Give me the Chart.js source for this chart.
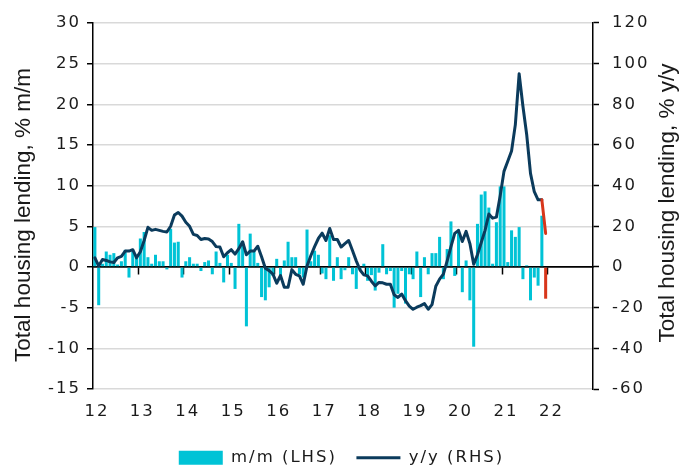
<!DOCTYPE html>
<html>
<head>
<meta charset="utf-8">
<style>
html,body{margin:0;padding:0;background:#fff;overflow:hidden;}
#wrap{width:683px;height:469px;position:relative;}
canvas{display:block;}
</style>
<script src="https://cdn.jsdelivr.net/npm/chart.js@4/dist/chart.umd.min.js"></script>
</head>
<body>
<div id="wrap"><canvas id="c" width="683" height="469" style="width:683px;height:469px"></canvas></div>
<script>
// ---- data ----
const startYear = 2012;
const monthCount = 132; // Jan 2012 .. Dec 2022 (axis span)
const yearTickLabels = ['12','13','14','15','16','17','18','19','20','21','22'];
const leftTitle = 'Total housing lending, % m/m';
const rightTitle = 'Total housing lending, % y/y';
const seriesNames = ['m/m (LHS)', 'y/y (RHS)'];

// m/m, % (left axis) Jan 2012 .. Dec 2021
const mmValues = [
  4.9, -4.7, 0.4, 1.9, 1.5, 1.7, 0.3, 0.7, 2.1, -1.3, 1.9, 1.5,
  3.5, 4.3, 1.2, 0.4, 1.5, 0.7, 0.7, -0.3, 4.7, 3.0, 3.1, -1.3,
  0.7, 1.2, 0.4, 0.4, -0.5, 0.6, 0.8, -0.9, 1.9, 0.5, -1.9, 1.5,
  0.5, -2.7, 5.3, 3.1, -7.3, 4.1, 2.0, 0.5, -3.7, -4.1, -2.5, -1.1,
  1.0, -1.2, 0.8, 3.1, 1.2, 1.2, -0.9, -1.3, 4.6, 0.7, 2.0, 1.5,
  -0.8, -1.5, 3.9, -1.7, 1.2, -1.5, -0.4, 1.2, -0.9, -2.7, -0.3, 0.4,
  -1.7, -1.0, -2.9, -0.7, 2.8, -0.9, -0.5, -5.0, -3.3, -0.5, -4.5, -0.9,
  -1.5, 1.9, -3.7, 1.2, -0.9, 1.7, 1.7, 3.7, -1.5, 2.2, 5.6, -1.1,
  4.6, -3.1, 0.8, -4.1, -9.8, 5.3, 8.9, 9.3, 7.3, 0.4, 5.5, 9.9,
  9.9, 0.6, 4.5, 3.7, 4.9, -1.5, 0.2, -4.1, -1.3, -2.3, 6.3, -3.9
];
// y/y, % (right axis) Jan 2012 .. Dec 2021
const yyValues = [
  4.5, 0.5, 3.7, 3.2, 2.5, 2.2, 4.5, 5.2, 7.8, 7.8, 8.5, 4.5,
  7.5, 13.0, 19.5, 18.0, 18.5, 18.0, 17.5, 17.2, 20.0, 25.5, 26.8, 25.0,
  22.0, 20.0, 16.0, 15.5, 13.5, 14.0, 13.8, 12.5, 10.0, 9.8, 5.0, 7.0,
  8.5, 6.3, 9.0, 12.4, 6.0, 7.8, 7.8, 10.2, 5.0, -0.6, -1.8, -3.5,
  -8.0, -4.2, -10.0, -10.0, -1.3, -3.6, -4.4, -8.5, 0.5, 5.5, 10.0, 14.0,
  16.6, 13.0, 18.9, 13.5, 13.5, 9.8, 11.5, 13.0, 8.1, 3.0, -1.5, -3.9,
  -4.4, -7.0, -9.3, -7.6, -7.8, -8.5, -8.5, -13.7, -15.0, -13.3, -16.6, -19.2,
  -20.8, -19.8, -19.0, -18.0, -20.8, -18.5, -9.5, -6.0, -3.5, 3.0, 10.0, 16.5,
  18.0, 12.5, 17.5, 11.5, 1.3, 6.0, 12.0, 18.0, 26.0, 24.0, 24.5, 35.0,
  47.0, 52.0, 57.0, 70.0, 95.0, 79.0, 65.0, 46.0, 37.0, 33.0, 33.0, 16.5
];
const leftAxis = {min: -15, max: 30, step: 5};
const rightAxis = {min: -60, max: 120, step: 20};

// ---- styles ----
const CYAN = '#00c3d6';
const NAVY = '#0b3b5c';
const RED = '#d8361b';
const GRID = '#d9d9d9';
const TEXT = '#1a1a1a';
const TICKFONT = {family: '"DejaVu Sans", sans-serif', size: 16.5};

const labels = [];
for (let i = 0; i < monthCount; i++) {
  labels.push((startYear + Math.floor(i / 12)) + '-' + String(i % 12 + 1).padStart(2, '0'));
}
const lastIdx = mmValues.length - 1;

const spacingPlugin = {
  id: 'spacing',
  beforeUpdate(chart) { chart.ctx.letterSpacing = '2px'; }
};
const titlePlugin = {
  id: 'vtitles',
  afterDraw(chart) {
    const ctx = chart.ctx, a = chart.chartArea;
    ctx.save();
    ctx.letterSpacing = '0px';
    ctx.font = '22.5px "Liberation Sans", Arial, sans-serif';
    ctx.fillStyle = TEXT;
    ctx.textAlign = 'center';
    ctx.textBaseline = 'middle';
    ctx.save();
    ctx.translate(a.left - 69, (a.top + a.bottom) / 2 + 9);
    ctx.rotate(-Math.PI / 2);
    ctx.fillText(leftTitle, 0, 0);
    ctx.restore();
    ctx.save();
    ctx.translate(a.right + 75, (a.top + a.bottom) / 2 - 3);
    ctx.rotate(-Math.PI / 2);
    ctx.fillText(rightTitle, 0, 0);
    ctx.restore();
    ctx.restore();
  }
};

new Chart(document.getElementById('c'), {
  type: 'bar',
  data: {
    labels: labels,
    datasets: [
      {
        type: 'bar',
        label: seriesNames[0],
        data: mmValues,
        yAxisID: 'yL',
        xAxisID: 'x',
        backgroundColor: mmValues.map((v, i) => i === lastIdx ? RED : CYAN),
        borderWidth: 0,
        barPercentage: 1,
        categoryPercentage: 0.8,
        order: 1
      },
      {
        type: 'line',
        label: seriesNames[1],
        data: yyValues,
        yAxisID: 'yR',
        xAxisID: 'x',
        borderColor: NAVY,
        borderWidth: 3,
        pointRadius: 0,
        tension: 0,
        borderJoinStyle: 'round',
        borderCapStyle: 'round',
        segment: { borderColor: c => c.p1DataIndex === lastIdx ? RED : NAVY },
        order: 0
      }
    ]
  },
  options: {
    responsive: false,
    animation: false,
    devicePixelRatio: 1,
    layout: { padding: { top: 20, left: 0, right: 0, bottom: -7 } },
    plugins: {
      tooltip: { enabled: false },
      legend: {
        position: 'bottom',
        labels: {
          usePointStyle: true,
          pointStyleWidth: 44,
          boxHeight: 14,
          padding: 19.5,
          color: TEXT,
          font: TICKFONT,
          sort: (a, b) => a.datasetIndex - b.datasetIndex,
          generateLabels: () => [
            { text: seriesNames[0], fillStyle: CYAN, strokeStyle: CYAN, lineWidth: 0, pointStyle: 'rect', datasetIndex: 0, fontColor: TEXT },
            { text: seriesNames[1], fillStyle: NAVY, strokeStyle: NAVY, lineWidth: 3, pointStyle: 'line', datasetIndex: 1, fontColor: TEXT }
          ]
        }
      }
    },
    scales: {
      x: {
        type: 'category',
        position: 'bottom',
        offset: true,
        grid: { display: false, drawTicks: false, offset: true },
        border: { display: false },
        ticks: {
          autoSkip: false, maxRotation: 0, minRotation: 0, padding: 13, labelOffset: 2,
          color: TEXT, font: TICKFONT,
          callback: (v, i) => (i % 12 === 0) ? (yearTickLabels[i / 12] || '') : ''
        },
        afterFit: s => { s.height = 41; }
      },
      x2: {
        type: 'category',
        position: { yL: 0 },
        offset: true,
        grid: {
          offset: true, drawOnChartArea: false, drawTicks: true, tickLength: 7, tickWidth: 1.5,
          color: 'rgba(0,0,0,0)',
          tickColor: c => (c.index % 12 === 0 && c.index > 0 && c.index < monthCount) ? '#000' : 'rgba(0,0,0,0)'
        },
        border: { display: true, color: '#000', width: 1.5 },
        ticks: { display: false }
      },
      yL: {
        type: 'linear',
        position: 'left',
        min: leftAxis.min, max: leftAxis.max,
        grid: {
          color: c => c.tick && c.tick.value === 0 ? '#000' : GRID,
          lineWidth: 1.5, tickColor: '#000', tickLength: 6, tickWidth: 1.5, drawTicks: true
        },
        border: { display: true, color: '#000', width: 1.5 },
        ticks: { stepSize: leftAxis.step, padding: 6, color: TEXT, font: TICKFONT },
        afterFit: s => { s.width = 93; }
      },
      yR: {
        type: 'linear',
        position: 'right',
        min: rightAxis.min, max: rightAxis.max,
        grid: { drawOnChartArea: false, tickColor: '#000', tickLength: 6, tickWidth: 1.5, drawTicks: true },
        border: { display: true, color: '#000', width: 1.5 },
        ticks: { stepSize: rightAxis.step, padding: 13, color: TEXT, font: TICKFONT },
        afterFit: s => { s.width = 90; }
      }
    }
  },
  plugins: [spacingPlugin, titlePlugin]
});
</script>
</body>
</html>
